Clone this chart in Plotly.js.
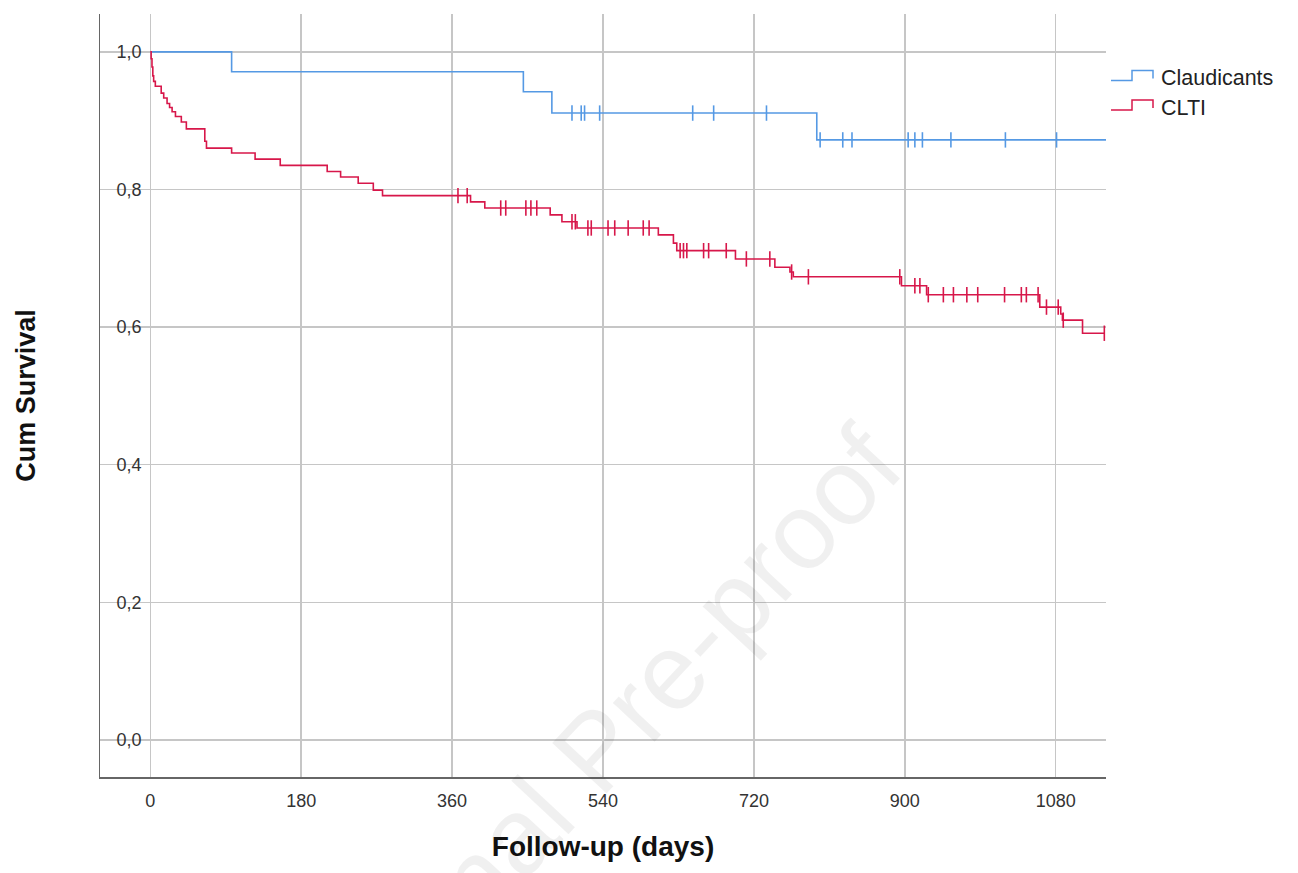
<!DOCTYPE html>
<html>
<head>
<meta charset="utf-8">
<script src="https://cdn.plot.ly/plotly-3.0.1.min.js"></script>
<style>
  html, body { margin: 0; padding: 0; background: #ffffff; }
  #chart { width: 1298px; height: 873px; }
</style>
</head>
<body>
<div id="chart"></div>
<script>
// ---------- data ----------
const groupNames = ["Claudicants", "CLTI"];

const claudEventDays = [97, 445, 479, 795];
const claudEventSurv = [0.971, 0.942, 0.911, 0.872];
const claudCensorDays = [503, 514, 518, 536, 647, 672, 735, 799, 826, 837, 904, 912, 921, 955, 1020, 1081];
const claudEndDay = 1140;

const cltiEventDays = [1, 2, 3, 4, 6, 13, 16, 20, 23, 26, 30, 37, 43, 65, 67, 97, 125, 155, 211, 227, 248, 266, 277,
  382, 399, 477, 491, 509, 606, 624, 628, 698, 745, 763, 767, 896, 926, 1061, 1086, 1088, 1112];
const cltiEventSurv = [0.990, 0.978, 0.965, 0.957, 0.950, 0.940, 0.933, 0.925, 0.919, 0.913, 0.906, 0.898, 0.888,
  0.870, 0.860, 0.853, 0.844, 0.835, 0.826, 0.818, 0.809, 0.799, 0.791, 0.782, 0.773, 0.763, 0.753, 0.744, 0.734,
  0.722, 0.711, 0.699, 0.687, 0.680, 0.673, 0.660, 0.647, 0.629, 0.619, 0.610, 0.591];
const cltiCensorDays = [367, 378, 418, 424, 448, 454, 461, 503, 507, 522, 526, 546, 554, 570, 588, 595,
  632, 636, 640, 660, 666, 687, 711, 739, 765, 785, 894, 912, 918, 928, 946, 958, 974, 987, 1019, 1039, 1045, 1059,
  1069, 1083, 1089, 1138];
const cltiEndDay = 1138;

const xTickVals = [0, 180, 360, 540, 720, 900, 1080];
const yTickVals = [0, 0.2, 0.4, 0.6, 0.8, 1.0];

// ---------- styles ----------
const colors = ["#5599e4", "#d7174a"];

// ---------- helpers ----------
function stepXY(days, surv, endDay) {
  const x = [0], y = [1];
  for (let i = 0; i < days.length; i++) { x.push(days[i]); y.push(surv[i]); }
  x.push(endDay); y.push(surv[surv.length - 1]);
  return { x, y };
}
function survAt(t, days, surv) {
  let s = 1;
  for (let i = 0; i < days.length; i++) { if (days[i] <= t) s = surv[i]; }
  return s;
}

const claud = stepXY(claudEventDays, claudEventSurv, claudEndDay);
const clti = stepXY(cltiEventDays, cltiEventSurv, cltiEndDay);

const traces = [
  { x: claud.x, y: claud.y, type: "scatter", mode: "lines", line: { shape: "hv", color: colors[0], width: 1.6 },
    name: groupNames[0], showlegend: false, hoverinfo: "skip" },
  { x: clti.x, y: clti.y, type: "scatter", mode: "lines", line: { shape: "hv", color: colors[1], width: 1.6 },
    name: groupNames[1], showlegend: false, hoverinfo: "skip" },
  { x: claudCensorDays, y: claudCensorDays.map(t => survAt(t, claudEventDays, claudEventSurv)),
    type: "scatter", mode: "markers", name: groupNames[0] + " censored", showlegend: false, hoverinfo: "skip",
    marker: { symbol: "line-ns-open", size: 11, color: colors[0], line: { color: colors[0], width: 1.6 } } },
  { x: cltiCensorDays, y: cltiCensorDays.map(t => survAt(t, cltiEventDays, cltiEventSurv)),
    type: "scatter", mode: "markers", name: groupNames[1] + " censored", showlegend: false, hoverinfo: "skip",
    marker: { symbol: "line-ns-open", size: 11, color: colors[1], line: { color: colors[1], width: 1.6 } } }
];

// pixel -> paper conversion for layout-only items (legend, watermark)
const M = { l: 100, r: 192, t: 14, b: 96 };
const PW = 1298 - M.l - M.r, PH = 873 - M.t - M.b;
const px = v => (v - M.l) / PW;
const py = v => (873 - M.b - v) / PH;

function legendIcon(yBase, color) {
  const path = "M" + px(1111) + "," + py(yBase) + " L" + px(1132) + "," + py(yBase) +
    " L" + px(1132) + "," + py(yBase - 10) + " L" + px(1153) + "," + py(yBase - 10) +
    " L" + px(1153) + "," + py(yBase - 2);
  return { type: "path", xref: "paper", yref: "paper", path: path, line: { color: color, width: 1.5 } };
}

const fontFam = "Liberation Sans, Arial, sans-serif";

const layout = {
  width: 1298, height: 873,
  margin: M,
  paper_bgcolor: "#ffffff", plot_bgcolor: "#ffffff",
  separators: ",.",
  showlegend: false,
  font: { family: fontFam, color: "#222222" },
  xaxis: {
    range: [-60, 1140], tickvals: xTickVals, ticktext: xTickVals.map(String),
    showgrid: true, gridcolor: "#c6c6c6", gridwidth: 1.5,
    zeroline: false, showline: true, linecolor: "#666666", linewidth: 1.5,
    ticks: "", ticklabelstandoff: 7,
    tickfont: { size: 18, color: "#333333", family: fontFam },
    title: { text: "Follow-up (days)", font: { size: 28, weight: "bold", color: "#111111", family: fontFam }, standoff: 26 }
  },
  yaxis: {
    range: [-0.054, 1.055], tickvals: yTickVals, tickformat: ".1f",
    showgrid: true, gridcolor: "#c6c6c6", gridwidth: 1.5,
    zeroline: false, showline: true, linecolor: "#666666", linewidth: 1.5,
    ticks: "", ticklabelposition: "inside", ticklabelstandoff: 17,
    tickfont: { size: 18, color: "#333333", family: fontFam },
    title: { text: "Cum Survival", font: { size: 27, weight: "bold", color: "#111111", family: fontFam }, standoff: 73 }
  },
  shapes: [legendIcon(80.5, colors[0]), legendIcon(110, colors[1])],
  annotations: [
    { xref: "paper", yref: "paper", x: px(1159), y: py(78), xanchor: "left", yanchor: "middle", showarrow: false,
      text: groupNames[0], font: { size: 21.5, color: "#222222", family: fontFam } },
    { xref: "paper", yref: "paper", x: px(1159), y: py(108), xanchor: "left", yanchor: "middle", showarrow: false,
      text: groupNames[1], font: { size: 21.5, color: "#222222", family: fontFam } },
    { xref: "paper", yref: "paper", x: px(595), y: py(750), xanchor: "center", yanchor: "middle", showarrow: false,
      textangle: -47, text: "Journal Pre-proof", font: { size: 108, color: "rgba(0,0,0,0.06)", family: fontFam } }
  ]
};

Plotly.newPlot("chart", traces, layout, { displayModeBar: false, staticPlot: true });
</script>
</body>
</html>
